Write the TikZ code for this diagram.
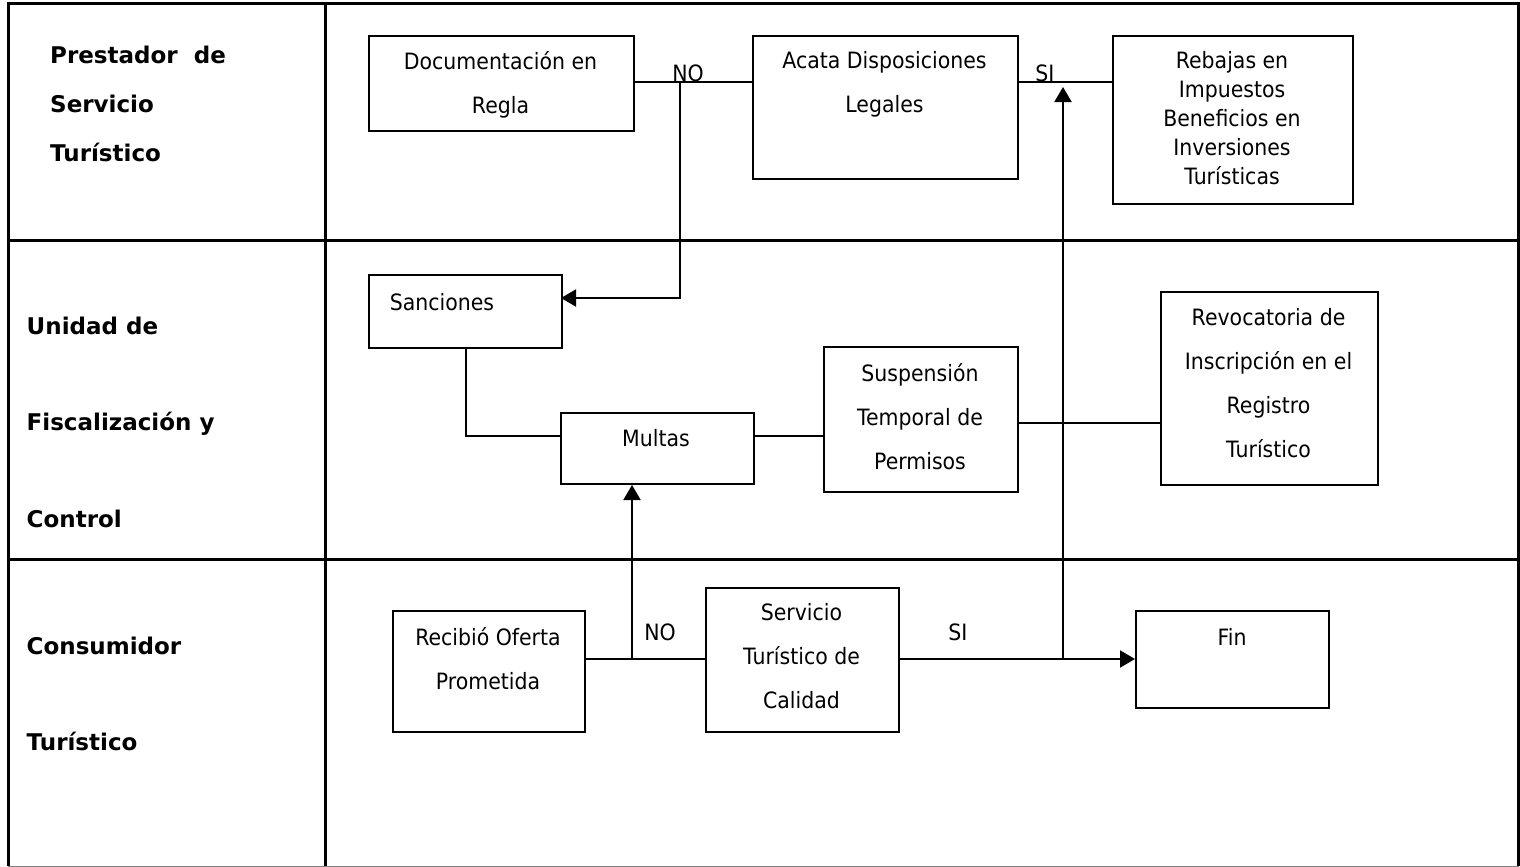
\documentclass[tikz,border=0pt]{standalone}
\usepackage{fontspec}
\setmainfont{DejaVu Sans}
% narrower cut of the same face for the box texts
\newfontfamily\boxfont[FakeStretch=0.91]{DejaVu Sans}
\usetikzlibrary{arrows.meta}

\begin{document}
\begin{tikzpicture}[x=1pt,y=-1pt,
  frame/.style={line width=3pt},
  box/.style={draw, line width=2pt, rectangle, inner sep=0pt, anchor=north west},
  txt/.style={align=center, inner sep=0pt, font=\boxfont\fontsize{22.5}{44}\selectfont},
  lane/.style={anchor=base west, inner sep=0pt, font=\bfseries\fontsize{23}{23}\selectfont},
  tag/.style={anchor=base, inner sep=0pt, font=\boxfont\fontsize{22.5}{22.5}\selectfont},
  link/.style={line width=2pt},
  arr/.style={link, -{Triangle[width=17pt,length=15pt]}}
]
\useasboundingbox (0,0) rectangle (1520,867);

% swimlane table
\draw[frame] (8,866) -- (8,3.5) -- (1518.7,3.5) -- (1518.7,866);
\draw[gray, line width=1pt] (8,866) -- (1518.7,866);
\draw[frame] (325,3.5) -- (325,866);
\draw[frame] (8,240) -- (1518.7,240);
\draw[frame] (8,559) -- (1518.7,559);

% lane titles
\node[lane] (l1a) at (50,63.5) {Prestador\ \ de};
\node[lane] (l1b) at (50,112) {Servicio};
\node[lane] (l1c) at (50,161.5) {Turístico};
\node[lane] (l2a) at (26.5,334.5) {Unidad de};
\node[lane] (l2b) at (26.5,430.5) {Fiscalización y};
\node[lane] (l2c) at (26.5,527.5) {Control};
\node[lane] (l3a) at (26.5,654) {Consumidor};
\node[lane] (l3b) at (26.5,750.5) {Turístico};

% process boxes
\node[box, minimum width=265pt, minimum height=95pt]  (doc)     at (368,35)   {};
\node[box, minimum width=265pt, minimum height=143pt] (acata)   at (752,35)   {};
\node[box, minimum width=240pt, minimum height=168pt] (rebajas) at (1112,35)  {};
\node[box, minimum width=193pt, minimum height=73pt]  (sanc)    at (368,274)  {};
\node[box, minimum width=193pt, minimum height=71pt]  (multas)  at (560,412)  {};
\node[box, minimum width=194pt, minimum height=145pt] (susp)    at (823,346)  {};
\node[box, minimum width=217pt, minimum height=193pt] (revo)    at (1160,291) {};
\node[box, minimum width=192pt, minimum height=121pt] (recib)   at (392,610)  {};
\node[box, minimum width=193pt, minimum height=144pt] (serv)    at (705,587)  {};
\node[box, minimum width=193pt, minimum height=97pt]  (fin)     at (1135,610) {};

% box texts
\node[txt] (doc-t)     at (500.5,84.5) {Documentación en\\Regla};
\node[txt] (acata-t)   at (884.5,84)   {Acata Disposiciones\\Legales};
\node[txt, font=\boxfont\fontsize{22.5}{29}\selectfont] (rebajas-t) at (1232,118)
  {Rebajas en\\Impuestos\\Beneficios en\\Inversiones\\Turísticas};
\node[txt] (sanc-t)    at (442,302)    {Sanciones};
\node[txt] (multas-t)  at (656,438)    {Multas};
\node[txt] (susp-t)    at (920,416.5)  {Suspensión\\Temporal de\\Permisos};
\node[txt] (revo-t)    at (1268.5,383.5) {Revocatoria de\\Inscripción en el\\Registro\\Turístico};
\node[txt] (recib-t)   at (488,659)    {Recibió Oferta\\Prometida};
\node[txt] (serv-t)    at (801.5,656)  {Servicio\\Turístico de\\Calidad};
\node[txt] (fin-t)     at (1232,637)   {Fin};

% junctions and bends
\coordinate (noSplit) at (680,82);
\coordinate (sancIn)  at (561,298);
\coordinate (noUp)    at (632,659);
\coordinate (siSplit) at (1063,659);
\coordinate (siTop)   at (1063,87);

% connectors
\draw[link] (doc.east |- noSplit) -- (noSplit) -- (acata.west |- noSplit);
\draw[arr]  (noSplit) |- (sancIn);
\draw[link] (acata.east |- noSplit) -- (rebajas.west |- noSplit);
\draw[link] (sanc.south) |- ([yshift=12.5pt]multas.west);
\draw[link] ([yshift=12.5pt]multas.east) -- ([yshift=12.5pt]multas.east -| susp.west);
\draw[link] ([yshift=-3.5pt]susp.east) -- ([yshift=-3.5pt]susp.east -| revo.west);
\draw[link] (recib.east |- noUp) -- (serv.west |- noUp);
\draw[arr]  (noUp) -- (noUp |- multas.south);
\draw[arr]  (serv.east |- siSplit) -- (fin.west |- siSplit);
\draw[arr]  (siSplit) -- (siTop);

% branch labels
\node[tag] (no1) at (688,81.5)  {NO};
\node[tag] (si1) at (1045,81.5) {SI};
\node[tag] (no2) at (660,640)   {NO};
\node[tag] (si2) at (958,640)   {SI};
\end{tikzpicture}
\end{document}
